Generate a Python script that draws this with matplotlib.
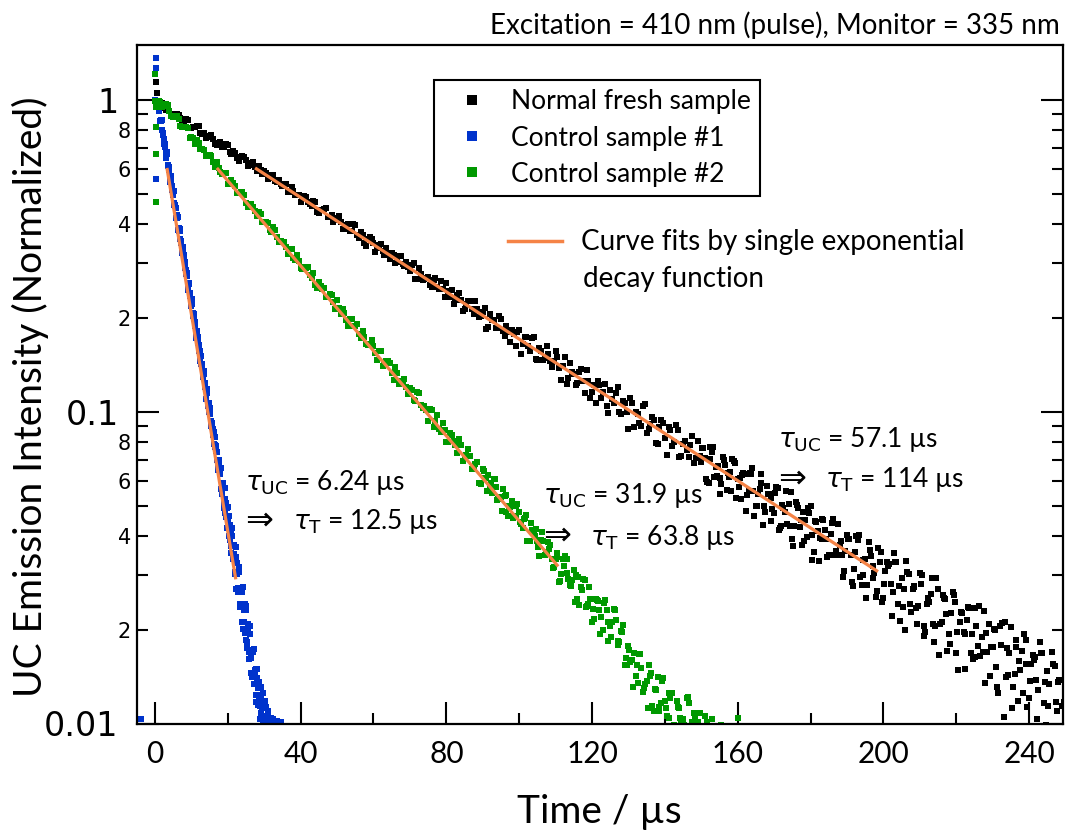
import numpy as np
import matplotlib
matplotlib.use("Agg")
import matplotlib.pyplot as plt
from matplotlib.lines import Line2D
from matplotlib.ticker import FixedLocator, FixedFormatter

# ---------------- data ----------------
# Normal fresh sample: interleaved read-outs
t_black = np.arange(0, 250, 1.0)
y_black = [
    0.995, 0.954, 0.975, 0.930, 0.922, 0.879, 0.904, 0.872, 0.847, 0.860,
    0.811, 0.819, 0.822, 0.779, 0.753, 0.768, 0.747, 0.719, 0.731, 0.705,
    0.716, 0.673, 0.677, 0.639, 0.660, 0.641, 0.620, 0.630, 0.593, 0.594,
    0.590, 0.559, 0.575, 0.550, 0.552, 0.528, 0.539, 0.505, 0.509, 0.497,
    0.471, 0.493, 0.472, 0.457, 0.469, 0.435, 0.444, 0.449, 0.420, 0.405,
    0.419, 0.406, 0.385, 0.400, 0.381, 0.396, 0.361, 0.369, 0.339, 0.362,
    0.348, 0.334, 0.346, 0.317, 0.322, 0.322, 0.299, 0.316, 0.297, 0.302,
    0.282, 0.299, 0.267, 0.276, 0.267, 0.270, 0.252, 0.268, 0.248, 0.248,
    0.258, 0.234, 0.222, 0.237, 0.229, 0.214, 0.227, 0.213, 0.226, 0.201,
    0.209, 0.184, 0.206, 0.197, 0.185, 0.199, 0.175, 0.180, 0.183, 0.163,
    0.183, 0.165, 0.173, 0.156, 0.173, 0.146, 0.156, 0.149, 0.153, 0.139,
    0.156, 0.138, 0.140, 0.123, 0.143, 0.132, 0.124, 0.137, 0.115, 0.125,
    0.116, 0.107, 0.122, 0.116, 0.104, 0.117, 0.107, 0.120, 0.0985, 0.107,
    0.0880, 0.107, 0.100, 0.0923, 0.104, 0.0855, 0.0911, 0.0942, 0.0788, 0.0943,
    0.0825, 0.0892, 0.0774, 0.0906, 0.0714, 0.0789, 0.0753, 0.0783, 0.0686, 0.0806,
    0.0690, 0.0712, 0.0589, 0.0742, 0.0665, 0.0611, 0.0714, 0.0560, 0.0640, 0.0697,
    0.0609, 0.0524, 0.0629, 0.0557, 0.0658, 0.0499, 0.0567, 0.0434, 0.0576, 0.0529,
    0.0473, 0.0568, 0.0430, 0.0476, 0.0504, 0.0390, 0.0512, 0.0427, 0.0477, 0.0395,
    0.0497, 0.0356, 0.0414, 0.0391, 0.0417, 0.0347, 0.0440, 0.0357, 0.0373, 0.0295,
    0.0401, 0.0348, 0.0312, 0.0388, 0.0279, 0.0338, 0.0382, 0.0292, 0.0254, 0.0329,
    0.0252, 0.0329, 0.0280, 0.0353, 0.0242, 0.0292, 0.0200, 0.0302, 0.0271, 0.0235,
    0.0303, 0.0205, 0.0241, 0.0261, 0.0182, 0.0271, 0.0212, 0.0250, 0.0193, 0.0265,
    0.0168, 0.0211, 0.0196, 0.0215, 0.0168, 0.0234, 0.0177, 0.0190, 0.0135, 0.0208,
    0.0176, 0.0152, 0.0206, 0.0105, 0.0174, 0.0204, 0.0144, 0.0118, 0.0171, 0.0155,
    0.0121, 0.0166, 0.0138, 0.0182, 0.0116, 0.0147, 0.0092, 0.0153, 0.0136, 0.0114,
]
t_black_half = np.arange(0.5, 250, 1.0)
y_black_half = [
    0.959, 0.973, 0.941, 0.953, 0.889, 0.900, 0.893, 0.856, 0.868, 0.812,
    0.821, 0.822, 0.781, 0.786, 0.760, 0.770, 0.723, 0.728, 0.705, 0.722,
    0.683, 0.687, 0.649, 0.657, 0.654, 0.612, 0.628, 0.608, 0.612, 0.578,
    0.583, 0.561, 0.573, 0.545, 0.539, 0.537, 0.506, 0.524, 0.495, 0.495,
    0.489, 0.487, 0.462, 0.473, 0.436, 0.444, 0.446, 0.420, 0.426, 0.411,
    0.423, 0.386, 0.396, 0.379, 0.399, 0.368, 0.376, 0.347, 0.358, 0.358,
    0.325, 0.343, 0.328, 0.335, 0.309, 0.318, 0.302, 0.316, 0.294, 0.292,
    0.295, 0.267, 0.290, 0.264, 0.269, 0.254, 0.264, 0.252, 0.262, 0.233,
    0.244, 0.245, 0.228, 0.240, 0.211, 0.221, 0.226, 0.206, 0.213, 0.203,
    0.215, 0.187, 0.197, 0.186, 0.203, 0.181, 0.189, 0.167, 0.178, 0.180,
    0.153, 0.173, 0.162, 0.172, 0.148, 0.160, 0.147, 0.163, 0.145, 0.145,
    0.150, 0.126, 0.150, 0.128, 0.134, 0.122, 0.134, 0.125, 0.136, 0.111,
    0.122, 0.125, 0.111, 0.123, 0.0994, 0.110, 0.115, 0.0995, 0.108, 0.0997,
    0.111, 0.0895, 0.0981, 0.0902, 0.106, 0.0883, 0.0962, 0.0795, 0.0895, 0.0923,
    0.0724, 0.0873, 0.0802, 0.0876, 0.0719, 0.0803, 0.0715, 0.0838, 0.0711, 0.0719,
    0.0764, 0.0595, 0.0769, 0.0617, 0.0670, 0.0585, 0.0677, 0.0616, 0.0704, 0.0527,
    0.0614, 0.0635, 0.0541, 0.0633, 0.0463, 0.0543, 0.0591, 0.0477, 0.0543, 0.0489,
    0.0574, 0.0424, 0.0490, 0.0436, 0.0552, 0.0430, 0.0491, 0.0373, 0.0448, 0.0472,
    0.0334, 0.0443, 0.0394, 0.0451, 0.0343, 0.0406, 0.0346, 0.0435, 0.0348, 0.0357,
    0.0390, 0.0277, 0.0399, 0.0296, 0.0334, 0.0279, 0.0344, 0.0303, 0.0365, 0.0246,
    0.0309, 0.0325, 0.0264, 0.0329, 0.0213, 0.0270, 0.0305, 0.0228, 0.0275, 0.0239,
    0.0300, 0.0197, 0.0245, 0.0209, 0.0292, 0.0208, 0.0252, 0.0171, 0.0226, 0.0245,
    0.0149, 0.0226, 0.0194, 0.0234, 0.0161, 0.0205, 0.0165, 0.0229, 0.0169, 0.0176,
    0.0200, 0.0125, 0.0210, 0.0141, 0.0168, 0.0131, 0.0176, 0.0149, 0.0193, 0.0113,
    0.0155, 0.0164, 0.0128, 0.0168, 0.0099, 0.0134, 0.0155, 0.0110, 0.0138, 0.0117,
]
t_black_tail = np.arange(150.25, 250, 1.0)
y_black_tail = [
    0.0767, 0.0609, 0.0707, 0.0771, 0.0620, 0.0546, 0.0700, 0.0638, 0.0558, 0.0684,
    0.0574, 0.0627, 0.0481, 0.0636, 0.0556, 0.0497, 0.0632, 0.0499, 0.0546, 0.0445,
    0.0548, 0.0416, 0.0501, 0.0555, 0.0431, 0.0371, 0.0501, 0.0450, 0.0385, 0.0491,
    0.0402, 0.0445, 0.0331, 0.0453, 0.0391, 0.0346, 0.0452, 0.0348, 0.0386, 0.0308,
    0.0391, 0.0285, 0.0355, 0.0401, 0.0300, 0.0252, 0.0360, 0.0319, 0.0266, 0.0354,
    0.0281, 0.0320, 0.0222, 0.0330, 0.0276, 0.0237, 0.0333, 0.0242, 0.0276, 0.0209,
    0.0281, 0.0191, 0.0253, 0.0292, 0.0206, 0.0166, 0.0259, 0.0225, 0.0180, 0.0258,
    0.0196, 0.0227, 0.0150, 0.0236, 0.0194, 0.0163, 0.0239, 0.0169, 0.0195, 0.0142,
    0.0201, 0.0131, 0.0179, 0.0211, 0.0143, 0.0112, 0.0185, 0.0159, 0.0125, 0.0185,
    0.0137, 0.0160, 0.0103, 0.0168, 0.0136, 0.0114, 0.0170, 0.0117, 0.0138, 0.0098,
]

# Control sample #1
t_blue = np.arange(0, 35.01, 0.25)
y_blue = [
    1.00, 0.985, 0.975, 0.955, 0.935, 0.918, 0.856, 0.856, 0.798, 0.786,
    0.725, 0.722, 0.676, 0.679, 0.620, 0.608, 0.597, 0.545, 0.545, 0.514,
    0.510, 0.466, 0.460, 0.449, 0.418, 0.420, 0.380, 0.380, 0.358, 0.354,
    0.325, 0.322, 0.317, 0.290, 0.284, 0.279, 0.255, 0.259, 0.240, 0.235,
    0.218, 0.222, 0.203, 0.198, 0.194, 0.178, 0.181, 0.166, 0.164, 0.150,
    0.156, 0.142, 0.141, 0.129, 0.132, 0.120, 0.118, 0.118, 0.104, 0.107,
    0.0984, 0.101, 0.0899, 0.0890, 0.0881, 0.0785, 0.0828, 0.0747, 0.0744, 0.0672,
    0.0700, 0.0630, 0.0652, 0.0567, 0.0579, 0.0584, 0.0508, 0.0523, 0.0459, 0.0492,
    0.0442, 0.0463, 0.0387, 0.0416, 0.0372, 0.0399, 0.0336, 0.0350, 0.0301, 0.0342,
    0.0302, 0.0273, 0.0307, 0.0241, 0.0270, 0.0240, 0.0265, 0.0201, 0.0232, 0.0195,
    0.0232, 0.0175, 0.0201, 0.0170, 0.0193, 0.0145, 0.0167, 0.0141, 0.0169, 0.0134,
    0.0149, 0.0117, 0.0140, 0.0115, 0.0122, 0.0103, 0.0123, 0.0108, 0.0118, 0.0101,
    0.0113, 0.0097, 0.0106, 0.0102, 0.0110, 0.0095, 0.0104, 0.0099, 0.0101, 0.0093,
    0.0103, 0.0096, 0.0098, 0.0092, 0.0102, 0.0094, 0.0097, 0.0090, 0.0101, 0.0093,
    0.0095,
]
t_blue_mid = np.arange(1.125, 18.0, 0.25)
y_blue_mid = [
    0.950, 0.855, 0.864, 0.859, 0.774, 0.721, 0.751, 0.704, 0.652, 0.672,
    0.614, 0.608, 0.548, 0.570, 0.529, 0.496, 0.512, 0.461, 0.458, 0.418,
    0.426, 0.384, 0.388, 0.385, 0.347, 0.323, 0.337, 0.316, 0.293, 0.302,
    0.276, 0.273, 0.246, 0.256, 0.237, 0.222, 0.230, 0.207, 0.205, 0.188,
    0.191, 0.172, 0.174, 0.173, 0.156, 0.145, 0.151, 0.142, 0.131, 0.135,
    0.124, 0.123, 0.110, 0.115, 0.107, 0.0998, 0.103, 0.0931, 0.0922, 0.0842,
    0.0859, 0.0773, 0.0781, 0.0776, 0.0700, 0.0652, 0.0679, 0.0636,
]
t_blue_tail = np.arange(18.125, 34.0, 0.25)
y_blue_tail = [
    0.0658, 0.0544, 0.0590, 0.0491, 0.0571, 0.0473, 0.0511, 0.0423,
    0.0495, 0.0400, 0.0432, 0.0353, 0.0425, 0.0344, 0.0375, 0.0306,
    0.0369, 0.0271, 0.0326, 0.0264, 0.0317, 0.0237, 0.0272, 0.0211,
    0.0274, 0.0212, 0.0241, 0.0185, 0.0238, 0.0182, 0.0209, 0.0161,
    0.0206, 0.0162, 0.0172, 0.0141, 0.0173, 0.0145, 0.0150, 0.0123,
    0.0150, 0.0130, 0.0136, 0.0114, 0.0131, 0.0112, 0.0125, 0.0106,
    0.0118, 0.0104, 0.0113, 0.0100, 0.0109, 0.0102, 0.0098, 0.0104,
    0.0097, 0.0101, 0.0099, 0.0096, 0.0100, 0.0095, 0.0098, 0.0094,
]

# Control sample #2
t_green = np.arange(0, 161, 1.0)
y_green = [
    0.994, 0.993, 0.949, 0.969, 0.923, 0.883, 0.885, 0.822, 0.819, 0.810,
    0.758, 0.723, 0.727, 0.698, 0.663, 0.664, 0.632, 0.632, 0.586, 0.582,
    0.539, 0.553, 0.529, 0.504, 0.507, 0.468, 0.463, 0.455, 0.423, 0.432,
    0.405, 0.403, 0.377, 0.384, 0.350, 0.350, 0.337, 0.332, 0.312, 0.318,
    0.289, 0.292, 0.292, 0.268, 0.254, 0.260, 0.248, 0.233, 0.238, 0.224,
    0.229, 0.206, 0.208, 0.189, 0.198, 0.188, 0.178, 0.182, 0.165, 0.165,
    0.163, 0.147, 0.156, 0.143, 0.145, 0.133, 0.139, 0.123, 0.125, 0.120,
    0.119, 0.109, 0.116, 0.105, 0.104, 0.0934, 0.101, 0.0936, 0.0882, 0.0922,
    0.0797, 0.0852, 0.0806, 0.0739, 0.0782, 0.0722, 0.0762, 0.0657, 0.0679, 0.0592,
    0.0657, 0.0615, 0.0569, 0.0608, 0.0520, 0.0533, 0.0535, 0.0464, 0.0516, 0.0462,
    0.0478, 0.0423, 0.0465, 0.0385, 0.0405, 0.0385, 0.0388, 0.0347, 0.0382, 0.0336,
    0.0337, 0.0285, 0.0337, 0.0303, 0.0279, 0.0311, 0.0251, 0.0274, 0.0289, 0.0241,
    0.0212, 0.0251, 0.0232, 0.0200, 0.0231, 0.0205, 0.0233, 0.0179, 0.0198, 0.0154,
    0.0177, 0.0160, 0.0142, 0.0167, 0.0126, 0.0137, 0.0142, 0.0110, 0.0141, 0.0116,
    0.0118, 0.0104, 0.0125, 0.0098, 0.0112, 0.0103, 0.0121, 0.0095, 0.0108, 0.0101,
    0.0097, 0.0106, 0.0092, 0.0103, 0.0090, 0.0088, 0.0094, 0.0086, 0.0091, 0.0089,
    0.0104,
]
t_green_half = np.arange(0.5, 160, 1.0)
y_green_half = [
    0.967, 0.987, 0.957, 0.962, 0.887, 0.885, 0.867, 0.820, 0.818, 0.756,
    0.753, 0.743, 0.696, 0.691, 0.661, 0.659, 0.611, 0.606, 0.579, 0.585,
    0.544, 0.543, 0.503, 0.505, 0.495, 0.455, 0.462, 0.440, 0.438, 0.406,
    0.407, 0.383, 0.391, 0.362, 0.354, 0.351, 0.321, 0.333, 0.307, 0.304,
    0.286, 0.290, 0.275, 0.278, 0.250, 0.253, 0.249, 0.233, 0.236, 0.213,
    0.215, 0.214, 0.197, 0.198, 0.188, 0.191, 0.172, 0.173, 0.164, 0.170,
    0.154, 0.157, 0.140, 0.145, 0.143, 0.126, 0.133, 0.125, 0.127, 0.114,
    0.117, 0.108, 0.115, 0.103, 0.101, 0.102, 0.0891, 0.0973, 0.0862, 0.0871,
    0.0799, 0.0839, 0.0782, 0.0819, 0.0693, 0.0728, 0.0723, 0.0657, 0.0690, 0.0587,
    0.0613, 0.0627, 0.0550, 0.0573, 0.0531, 0.0563, 0.0476, 0.0496, 0.0460, 0.0505,
    0.0435, 0.0456, 0.0386, 0.0416, 0.0419, 0.0345, 0.0386, 0.0355, 0.0373, 0.0318,
    0.0341, 0.0301, 0.0344, 0.0290, 0.0289, 0.0299, 0.0240, 0.0290, 0.0238, 0.0250,
    0.0216, 0.0247, 0.0220, 0.0249, 0.0184, 0.0212, 0.0214, 0.0183, 0.0207, 0.0154,
    0.0157, 0.0168, 0.0135, 0.0151, 0.0134, 0.0154, 0.0114, 0.0128, 0.0113, 0.0140,
    0.0106, 0.0121, 0.0099, 0.0113, 0.0102, 0.0094, 0.0116, 0.0101, 0.0097, 0.0108,
    0.0093, 0.0101, 0.0087, 0.0095, 0.0089, 0.0099, 0.0086, 0.0090, 0.0092, 0.0087,
]
t_green_tail = np.arange(90.25, 150, 1.0)
y_green_tail = [
    0.0646, 0.0556, 0.0590, 0.0609, 0.0526, 0.0481, 0.0540, 0.0500, 0.0455, 0.0500,
    0.0442, 0.0454, 0.0386, 0.0440, 0.0398, 0.0367, 0.0411, 0.0351, 0.0362, 0.0316,
    0.0351, 0.0287, 0.0319, 0.0336, 0.0277, 0.0246, 0.0295, 0.0268, 0.0237, 0.0275,
    0.0233, 0.0249, 0.0193, 0.0244, 0.0212, 0.0190, 0.0231, 0.0184, 0.0197, 0.0162,
    0.0172, 0.0131, 0.0154, 0.0167, 0.0130, 0.0112, 0.0145, 0.0129, 0.0110, 0.0137,
    0.0112, 0.0125, 0.0096, 0.0118, 0.0104, 0.0099, 0.0122, 0.0097, 0.0106, 0.0093,
]

# prompt (excitation-pulse) points near t = 0 and a pre-trigger point
t_black_prompt = [0.3, 0.6]
y_black_prompt = [1.14, 1.05]
t_blue_prompt = [-3.8, 0.2, 0.4, 0.3]
y_blue_prompt = [0.0103, 1.36, 1.27, 0.557]
t_green_prompt = [0.1, 0.2, 0.3, 0.4, 0.2]
y_green_prompt = [1.21, 0.95, 0.82, 0.67, 0.47]

# single-exponential fit lines (start / end of each fitted range)
fit_black_t = [27.5, 198.5]
fit_black_y = [0.605, 0.0307]
fit_green_t = [17.0, 110.7]
fit_green_y = [0.605, 0.0319]
fit_blue_t = [3.3, 22.2]
fit_blue_y = [0.605, 0.0290]

series_labels = ["Normal fresh sample", "Control sample #1", "Control sample #2"]
fit_label_lines = ["Curve fits by single exponential", "decay function"]
title_text = "Excitation = 410 nm (pulse), Monitor = 335 nm"

x_major = [0, 40, 80, 120, 160, 200, 240]
x_minor = [20, 60, 100, 140, 180, 220]
y_major = [0.01, 0.1, 1]
y_major_labels = ["0.01", "0.1", "1"]
y_minor = [0.02, 0.03, 0.04, 0.05, 0.06, 0.07, 0.08, 0.09,
           0.2, 0.3, 0.4, 0.5, 0.6, 0.7, 0.8, 0.9]
y_minor_labels = ["2", "", "4", "", "6", "", "8", "",
                  "2", "", "4", "", "6", "", "8", ""]

# ---------------- style ----------------
C_BLACK = "#000000"
C_BLUE = "#0033cc"
C_GREEN = "#009900"
C_FIT = "#f58346"
BODY = ["Lato", "DejaVu Sans"]

W, H = 1065, 832
fig = plt.figure(figsize=(W / 100, H / 100), dpi=100)
ax = fig.add_axes([136.7 / W, 1 - 723.5 / H, (1062.7 - 136.7) / W, (723.5 - 45) / H])


def fx(px):
    return px / W


def fy(py):
    return 1 - py / H


kw = dict(marker="s", ls="none", ms=4.1, mew=0)
for tt, yy in [(t_black, y_black), (t_black_half, y_black_half),
               (t_black_tail, y_black_tail), (t_black_prompt, y_black_prompt)]:
    ax.plot(tt, yy, color=C_BLACK, **kw)
for tt, yy in [(t_blue, y_blue), (t_blue_mid, y_blue_mid),
               (t_blue_tail, y_blue_tail), (t_blue_prompt, y_blue_prompt)]:
    ax.plot(tt, yy, color=C_BLUE, **kw)
for tt, yy in [(t_green, y_green), (t_green_half, y_green_half),
               (t_green_tail, y_green_tail), (t_green_prompt, y_green_prompt)]:
    ax.plot(tt, yy, color=C_GREEN, **kw)

for ft, fv in [(fit_black_t, fit_black_y), (fit_green_t, fit_green_y), (fit_blue_t, fit_blue_y)]:
    ax.plot(ft, fv, "-", color=C_FIT, lw=2.3, solid_capstyle="butt")

ax.set_yscale("log")
ax.set_xlim(-5, 249.2)
ax.set_ylim(0.01, 1.5)

ax.xaxis.set_major_locator(FixedLocator(x_major))
ax.xaxis.set_minor_locator(FixedLocator(x_minor))
ax.yaxis.set_major_locator(FixedLocator(y_major))
ax.yaxis.set_major_formatter(FixedFormatter(y_major_labels))
ax.yaxis.set_minor_locator(FixedLocator(y_minor))
ax.yaxis.set_minor_formatter(FixedFormatter(y_minor_labels))

ax.tick_params(axis="both", which="both", direction="in", width=1.5, color="black")
ax.tick_params(axis="both", which="major", length=16)
ax.tick_params(axis="both", which="minor", length=8)
ax.tick_params(axis="y", which="both", left=True, right=True)
ax.tick_params(axis="x", which="both", bottom=True, top=False)
ax.tick_params(axis="x", which="major", pad=12)
ax.tick_params(axis="y", which="major", pad=13)
ax.tick_params(axis="y", which="minor", pad=4)

for lab in ax.get_xticklabels():
    lab.set_fontfamily(BODY)
    lab.set_fontsize(21.5)
for lab in ax.get_yticklabels():
    lab.set_fontfamily("DejaVu Sans")
    lab.set_fontsize(24)
for lab in ax.get_yticklabels(minor=True):
    lab.set_fontfamily("DejaVu Sans")
    lab.set_fontsize(15)

for sp in ax.spines.values():
    sp.set_linewidth(1.6)

ax.set_xlabel("Time / µs", family=BODY, fontsize=28, va="center")
ax.xaxis.set_label_coords(0.5, (fy(812) - fy(723.5)) / (fy(45) - fy(723.5)))
ax.set_ylabel("UC Emission Intensity (Normalized)", family=BODY, fontsize=28, va="center")
ax.yaxis.set_label_coords((30 - 136.7) / (1062.7 - 136.7), (723.5 - 397) / (723.5 - 45))

fig.text(fx(1060), fy(25), title_text, family=BODY, fontsize=20, ha="right", va="center")

# legend
handles = [Line2D([], [], marker="s", ls="none", color=c, ms=7, mew=0)
           for c in (C_BLACK, C_BLUE, C_GREEN)]
leg = ax.legend(handles, series_labels, loc="upper left",
                bbox_to_anchor=(fx(434), fy(80)), bbox_transform=fig.transFigure,
                prop={"family": BODY, "size": 19}, frameon=True, fancybox=False,
                edgecolor="black", framealpha=1, borderpad=0.36, labelspacing=0.42,
                handlelength=2.16, handletextpad=0.4, borderaxespad=0)
leg.get_frame().set_linewidth(1.5)

# fit legend (outside box)
fig.add_artist(Line2D([fx(508), fx(562)], [fy(241), fy(241)], transform=fig.transFigure,
                      color=C_FIT, lw=2.5))
fig.text(fx(581), fy(242), fit_label_lines[0], family=BODY, fontsize=20,
         ha="left", va="center")
fig.text(fx(583), fy(279), fit_label_lines[1], family=BODY, fontsize=20,
         ha="left", va="center")

# annotations
annots = [
    (245, 482, r"$\tau_{\mathrm{UC}}$ = 6.24 µs", 293, 522, r"$\tau_{\mathrm{T}}$ = 12.5 µs"),
    (543, 496, r"$\tau_{\mathrm{UC}}$ = 31.9 µs", 590, 537, r"$\tau_{\mathrm{T}}$ = 63.8 µs"),
    (778, 440, r"$\tau_{\mathrm{UC}}$ = 57.1 µs", 825, 480, r"$\tau_{\mathrm{T}}$ = 114 µs"),
]
for x1, y1, s1, x2, y2, s2 in annots:
    fig.text(fx(x1), fy(y1), s1, family=BODY, fontsize=19, ha="left", va="center")
    fig.text(fx(x1), fy(y2 - 2), "⇒", family="DejaVu Sans", fontsize=24, ha="left", va="center")
    fig.text(fx(x2), fy(y2), s2, family=BODY, fontsize=19, ha="left", va="center")

fig.savefig("out.png", dpi=100)
